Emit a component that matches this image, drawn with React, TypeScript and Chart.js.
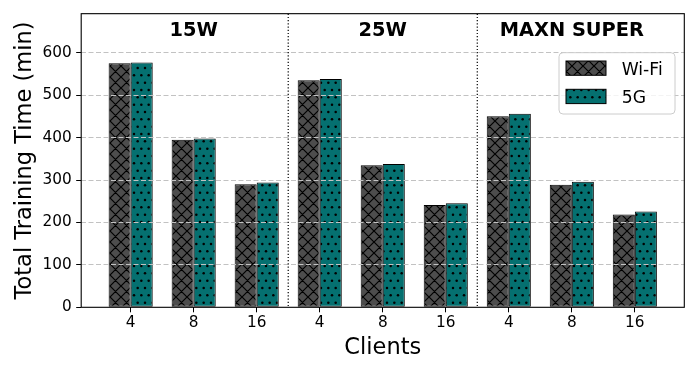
import React, { useEffect, useRef } from 'react';
import { Chart, registerables } from 'chart.js';

Chart.register(...registerables);

// ---- data ----
const groupTitles = ['15W', '25W', 'MAXN SUPER'];
const groupCenters = [1, 4, 7];
const groupDividers = [2.5, 5.5];
const clientLabels = ['4', '8', '16', '4', '8', '16', '4', '8', '16'];
const seriesNames = ['Wi-Fi', '5G'];
const wifiValues = [575, 395, 290, 535, 335, 241, 450, 289, 219];
const fiveGValues = [577, 398, 294, 538, 338, 245, 456, 296, 226];
const yTickValues = [0, 100, 200, 300, 400, 500, 600];
const yMax = 692;

const FONT = '"DejaVu Sans", Verdana, sans-serif';

function makeCrossPattern(ctx: CanvasRenderingContext2D, bg: string) {
  const P = 11;
  const c = document.createElement('canvas');
  c.width = P;
  c.height = P;
  const g = c.getContext('2d')!;
  g.fillStyle = bg;
  g.fillRect(0, 0, P, P);
  g.strokeStyle = '#000';
  g.lineWidth = 1.2;
  g.beginPath();
  for (const o of [-P, 0, P]) {
    g.moveTo(o - 2, -2);
    g.lineTo(o + P + 2, P + 2);
    g.moveTo(o - 2, P + 2);
    g.lineTo(o + P + 2, -2);
  }
  g.stroke();
  return ctx.createPattern(c, 'repeat')!;
}

function makeDotPattern(ctx: CanvasRenderingContext2D, bg: string) {
  const S = 44;
  const n = 6;
  const P = S / n;
  const c = document.createElement('canvas');
  c.width = S;
  c.height = S;
  const g = c.getContext('2d')!;
  g.fillStyle = bg;
  g.fillRect(0, 0, S, S);
  g.fillStyle = '#000';
  for (let r = -1; r <= n + 1; r++) {
    const off = Math.abs(r) % 2 === 1 ? P / 2 : 0;
    for (let k = -1; k <= n + 1; k++) {
      g.beginPath();
      g.arc(k * P + off + 2, r * P + 2, 1.25, 0, Math.PI * 2);
      g.fill();
    }
  }
  return ctx.createPattern(c, 'repeat')!;
}

export default function App() {
  const ref = useRef<HTMLCanvasElement | null>(null);

  useEffect(() => {
    const canvas = ref.current!;
    const ctx = canvas.getContext('2d')!;
    const crossPat = makeCrossPattern(ctx, '#4d4d4d');
    const dotPat = makeDotPattern(ctx, '#057070');
    const fills = [crossPat, dotPat];

    const decor = {
      id: 'decor',
      afterDraw(chart: any) {
        const c = chart.ctx as CanvasRenderingContext2D;
        const area = chart.chartArea;
        const xs = chart.scales.x;
        c.save();
        // dotted dividers
        c.strokeStyle = '#000';
        c.lineWidth = 1.2;
        c.setLineDash([1.2, 2]);
        for (const d of groupDividers) {
          const px = xs.getPixelForValue(d);
          c.beginPath();
          c.moveTo(px, area.top);
          c.lineTo(px, area.bottom);
          c.stroke();
        }
        c.setLineDash([]);
        // frame
        c.lineWidth = 1.1;
        c.strokeRect(area.left, area.top, area.right - area.left, area.bottom - area.top);
        // group titles
        c.fillStyle = '#000';
        c.font = `bold 19.4px ${FONT}`;
        c.textAlign = 'center';
        c.textBaseline = 'alphabetic';
        groupTitles.forEach((t, i) => {
          c.fillText(t, xs.getPixelForValue(groupCenters[i]), area.top + 22);
        });
        // legend
        const lx = 559, ly = 52.7, lw = 116, lh = 61.3, r = 4;
        c.beginPath();
        c.moveTo(lx + r, ly);
        c.arcTo(lx + lw, ly, lx + lw, ly + lh, r);
        c.arcTo(lx + lw, ly + lh, lx, ly + lh, r);
        c.arcTo(lx, ly + lh, lx, ly, r);
        c.arcTo(lx, ly, lx + lw, ly, r);
        c.closePath();
        c.fillStyle = 'rgba(255,255,255,0.8)';
        c.fill();
        c.strokeStyle = '#cccccc';
        c.lineWidth = 1;
        c.stroke();
        c.font = `17.2px ${FONT}`;
        c.textAlign = 'left';
        seriesNames.forEach((name, i) => {
          const py = 61 + i * 28.3;
          c.fillStyle = fills[i];
          c.fillRect(566, py, 40, 14.3);
          c.strokeStyle = '#000';
          c.lineWidth = 1;
          c.strokeRect(566, py, 40, 14.3);
          c.fillStyle = '#000';
          c.fillText(name, 621.7, py + 14);
        });
        c.restore();
      },
    };

    const chart = new Chart(canvas, {
      type: 'bar',
      data: {
        datasets: [
          {
            label: seriesNames[0],
            data: wifiValues.map((v, i) => ({ x: i, y: v })),
            backgroundColor: crossPat,
            borderColor: '#000',
            borderWidth: 1,
            borderSkipped: false,
            categoryPercentage: 0.7,
            barPercentage: 1.0,
          },
          {
            label: seriesNames[1],
            data: fiveGValues.map((v, i) => ({ x: i, y: v })),
            backgroundColor: dotPat,
            borderColor: '#000',
            borderWidth: 1,
            borderSkipped: false,
            categoryPercentage: 0.7,
            barPercentage: 1.0,
          },
        ] as any,
      },
      options: {
        responsive: false,
        animation: false,
        devicePixelRatio: 1,
        layout: { padding: { top: 12.7, right: 13.7, left: 0, bottom: 0 } },
        plugins: { legend: { display: false }, tooltip: { enabled: false } },
        scales: {
          x: {
            type: 'linear',
            min: -0.785,
            max: 8.785,
            offset: false,
            afterBuildTicks: (s: any) => {
              s.ticks = clientLabels.map((_, i) => ({ value: i }));
            },
            afterFit: (s: any) => {
              s.height = 67.7;
            },
            grid: {
              offset: false,
              drawOnChartArea: false,
              drawTicks: true,
              tickLength: 5,
              tickColor: '#000',
              tickWidth: 1,
              tickBorderDash: [],
            },
            border: { display: false },
            ticks: {
              autoSkip: false,
              maxRotation: 0,
              padding: 2,
              color: '#000',
              font: { family: FONT, size: 15.3 },
              callback: (v: any) => clientLabels[Math.round(Number(v))] ?? '',
            },
            title: {
              display: true,
              text: 'Clients',
              color: '#000',
              font: { family: FONT, size: 22.5, lineHeight: 1 },
              padding: { top: 0, bottom: 16 },
            },
          },
          y: {
            min: 0,
            max: yMax,
            afterBuildTicks: (s: any) => {
              s.ticks = yTickValues.map((v) => ({ value: v }));
            },
            afterFit: (s: any) => {
              s.width = 81.2;
            },
            grid: {
              z: 1,
              color: (c: any) => (c.tick && c.tick.value === 0 ? 'rgba(0,0,0,0)' : '#c2c2c2'),
              lineWidth: 1,
              drawTicks: true,
              tickLength: 5,
              tickColor: '#000',
              tickWidth: 1,
              tickBorderDash: [],
            },
            border: { display: false, dash: [5, 2.5] },
            ticks: {
              padding: 4.5,
              color: '#000',
              font: { family: FONT, size: 15.3 },
            },
            title: {
              display: true,
              text: 'Total Training Time (min)',
              color: '#000',
              font: { family: FONT, size: 22.5, lineHeight: 1 },
              padding: { top: 14, bottom: 0 },
            },
          },
        },
      } as any,
      plugins: [decor],
    });

    return () => chart.destroy();
  }, []);

  return (
    <div style={{ position: 'fixed', left: 0, top: 0, width: 698, height: 375, background: '#fff' }}>
      <canvas ref={ref} width={698} height={375} style={{ display: 'block', width: 698, height: 375 }} />
    </div>
  );
}
